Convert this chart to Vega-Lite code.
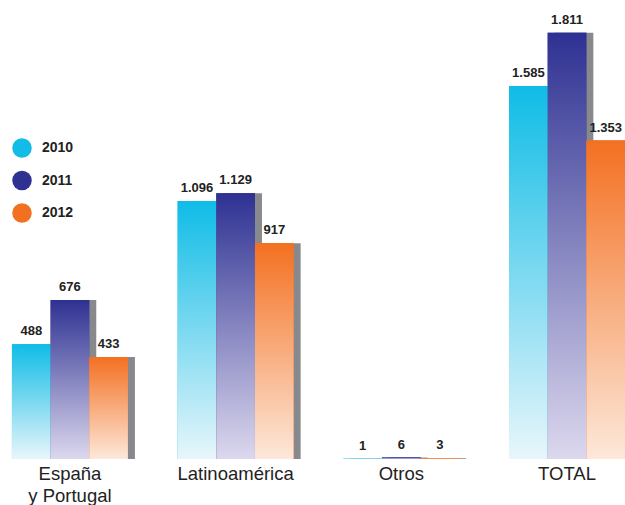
{
  "$schema": "https://vega.github.io/schema/vega-lite/v6.json",
  "width": 625,
  "height": 505,
  "autosize": {"type": "fit", "contains": "padding"},
  "padding": 0,
  "background": "white",
  "config": {
    "view": {"stroke": null},
    "font": "Liberation Sans",
    "locale": {"number": {"decimal": ",", "thousands": ".", "grouping": [3], "currency": ["", " €"]}}
  },
  "data": {
    "values": [
      {"region": "España y Portugal", "year": "2010", "value": 488},
      {"region": "España y Portugal", "year": "2011", "value": 676},
      {"region": "España y Portugal", "year": "2012", "value": 433},
      {"region": "Latinoamérica", "year": "2010", "value": 1096},
      {"region": "Latinoamérica", "year": "2011", "value": 1129},
      {"region": "Latinoamérica", "year": "2012", "value": 917},
      {"region": "Otros", "year": "2010", "value": 1},
      {"region": "Otros", "year": "2011", "value": 6},
      {"region": "Otros", "year": "2012", "value": 3},
      {"region": "TOTAL", "year": "2010", "value": 1585},
      {"region": "TOTAL", "year": "2011", "value": 1811},
      {"region": "TOTAL", "year": "2012", "value": 1353}
    ]
  },
  "resolve": {"scale": {"xOffset": "independent"}},
  "encoding": {
    "x": {
      "field": "region",
      "type": "nominal",
      "sort": ["España y Portugal", "Latinoamérica", "Otros", "TOTAL"],
      "scale": {"paddingInner": 0.3, "paddingOuter": 0.036, "align": 1},
      "axis": {
        "title": null,
        "domain": false,
        "ticks": false,
        "labelAngle": 0,
        "labelFontSize": 18.5,
        "labelColor": "#222222",
        "labelPadding": 5,
        "labelLineHeight": 22,
        "labelExpr": "datum.value == 'España y Portugal' ? ['España', 'y Portugal'] : datum.value"
      }
    },
    "y": {"field": "value", "type": "quantitative", "scale": {"domain": [0, 1950], "nice": false}, "axis": null}
  },
  "layer": [
    {
      "mark": {"type": "bar", "color": "#88898d", "clip": true},
      "encoding": {
        "xOffset": {"field": "year", "type": "nominal", "scale": {"range": [7, 123], "paddingInner": 0, "paddingOuter": 0}}
      }
    },
    {
      "layer": [
        {
          "mark": {"type": "bar"},
          "encoding": {
            "color": {
              "field": "year",
              "type": "nominal",
              "scale": {"range": ["#12bce7", "#2e3192", "#f37021"]},
              "legend": {
                "title": null,
                "orient": "none",
                "legendX": 12,
                "legendY": 138,
                "padding": 0,
                "symbolType": "circle",
                "symbolSize": 380,
                "symbolStrokeWidth": 0,
                "symbolOpacity": 1,
                "rowPadding": 12.5,
                "labelFontSize": 14,
                "labelFontWeight": "bold",
                "labelColor": "#222222",
                "labelOffset": 10
              }
            }
          }
        },
        {
          "mark": {"type": "bar"},
          "encoding": {
            "fill": {
              "condition": [
                {"test": "datum.year == '2010'", "value": {"gradient": "linear", "x1": 0, "y1": 0, "x2": 0, "y2": 1, "stops": [{"offset": 0, "color": "#0fbce6"}, {"offset": 1, "color": "#e8f6fb"}]}},
                {"test": "datum.year == '2011'", "value": {"gradient": "linear", "x1": 0, "y1": 0, "x2": 0, "y2": 1, "stops": [{"offset": 0, "color": "#2e3192"}, {"offset": 1, "color": "#dcd8ee"}]}}
              ],
              "value": {"gradient": "linear", "x1": 0, "y1": 0, "x2": 0, "y2": 1, "stops": [{"offset": 0, "color": "#f37021"}, {"offset": 1, "color": "#fde8da"}]}
            }
          }
        },
        {
          "mark": {"type": "text", "dy": -13, "fontWeight": "bold", "fontSize": 13, "color": "#222222"},
          "encoding": {"text": {"field": "value", "type": "quantitative", "format": ",d"}}
        }
      ],
      "encoding": {
        "xOffset": {"field": "year", "type": "nominal", "scale": {"paddingInner": 0, "paddingOuter": 0}}
      }
    }
  ]
}
